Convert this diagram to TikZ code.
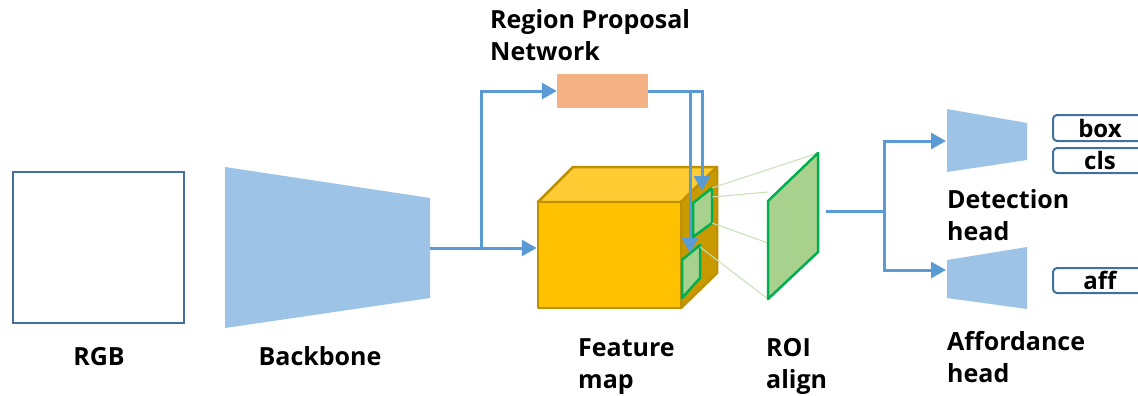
\documentclass[tikz,border=0pt]{standalone}
\usepackage{fontspec}
\setmainfont{Open Sans}
\usetikzlibrary{arrows.meta,calc}

\definecolor{arrowblue}{HTML}{5B9BD5}
\definecolor{netblue}{HTML}{9DC3E6}
\definecolor{frameblue}{HTML}{41719C}
\definecolor{rpnorange}{HTML}{F4B183}
\definecolor{cubefront}{HTML}{FFC000}
\definecolor{cubetop}{HTML}{FFCD33}
\definecolor{cubeside}{HTML}{C99A00}
\definecolor{cubeedge}{HTML}{BF9000}
\definecolor{roifill}{HTML}{A9D18E}
\definecolor{roiedge}{HTML}{00B050}
\definecolor{guide}{HTML}{C5E0B4}

\begin{document}
\begin{tikzpicture}[x=1pt, y=-1pt,
    >={Triangle[length=15pt, width=16pt]},
    arr/.style={->, draw=arrowblue, line width=3pt},
    wire/.style={draw=arrowblue, line width=3pt},
    lbl/.style={font=\fontsize{25}{32}\selectfont\bfseries, align=left, inner sep=0pt, anchor=base west},
    outbox/.style={draw=frameblue, line width=2pt, rounded corners=4pt, inner sep=0pt,
        minimum width=94pt, font=\fontsize{24}{26}\selectfont\bfseries},
    cube/.style={draw=cubeedge, line width=2.5pt, line join=round},
    patch/.style={fill=roifill, draw=roiedge, line width=2.5pt, line join=round},
    guideline/.style={draw=guide, line width=1pt},
]
\useasboundingbox (0,0) rectangle (1138,396);
\clip (0,0) rectangle (1138,396);

% --- Input image ---
\node[draw=frameblue, line width=2.2pt, fill=white, inner sep=0pt,
      minimum width=171pt, minimum height=151pt] (rgb) at (98.5,247.5) {};
\node[lbl, anchor=base] (rgb_lbl) at (99,365) {RGB};

% --- Backbone ---
\fill[netblue] (225,167) -- (430,198) -- (430,298) -- (225,328) -- cycle;
\coordinate (bb_out) at (430,248);
\coordinate (split) at (481,248);
\node[lbl, anchor=base] (bb_lbl) at (320,365) {Backbone};

% --- Region proposal network ---
\node[fill=rpnorange, inner sep=0pt, minimum width=91pt, minimum height=34pt] (rpn) at (602.5,91) {};
\node[lbl] (rpn_lbl) at (490,60) {Region Proposal\\Network};

% --- Feature map cube ---
\fill[cubetop]  (538,202) -- (573,167) -- (717,167) -- (681,202) -- cycle;
\draw[cube]     (538,202) -- (573,167) -- (717,167) -- (681,202) -- cycle;
\fill[cubeside] (681,202) -- (717,167) -- (717,273) -- (681,308) -- cycle;
\draw[cube]     (681,202) -- (717,167) -- (717,273) -- (681,308) -- cycle;
\node[cube, fill=cubefront, inner sep=0pt, minimum width=143pt, minimum height=106pt] (fm) at (609.5,255) {};
\node[lbl] (fm_lbl) at (578,388) {Feature\\map};

% proposals on the feature map
\draw[patch] (693,203) -- (712,188) -- (712,223) -- (693,237) -- cycle;
\draw[patch] (682,260) -- (700,245) -- (700,278) -- (682,298) -- cycle;
\coordinate (prop_a) at (702,191);
\coordinate (prop_b) at (690,253);

% --- ROI align ---
\draw[guideline] (712,188) -- (818,153);
\draw[guideline] (712,197) -- (768,192);
\draw[guideline] (712,223) -- (768,243);
\draw[guideline] (700,247) -- (768,299);
\draw[patch] (768,201) -- (818,153) -- (818,252) -- (768,299) -- cycle;
\coordinate (roi_out) at (826,211);
\coordinate (hsplit) at (884,211);
\node[lbl] (roi_lbl) at (766,388) {ROI\\align};

% --- Heads ---
\fill[netblue] (947,109) -- (1027,123) -- (1027,160) -- (947,172) -- cycle;
\fill[netblue] (947,260) -- (1027,247) -- (1027,309) -- (947,298) -- cycle;
\coordinate (det_in) at (946,141);
\coordinate (aff_in) at (946,270);
\node[lbl] (det_lbl) at (947,240) {Detection\\head};
\node[lbl] (aff_lbl) at (947,382) {Affordance\\head};

\node[outbox, minimum height=26pt] (box) at (1100,128) {box};
\node[outbox, minimum height=25pt] (cls) at (1100,160.5) {cls};
\node[outbox, minimum height=25pt] (aff) at (1100,280.5) {aff};

% --- Arrows ---
\draw[arr] (bb_out) -- (bb_out -| fm.west);
\draw[arr] (split) |- (rpn.west);
\draw[arr] (rpn.east) -| (prop_a);
\draw[arr] (rpn.east) -| (prop_b);
\draw[wire] (roi_out) -- (hsplit);
\draw[arr] (hsplit) |- (det_in);
\draw[arr] (hsplit) |- (aff_in);

\end{tikzpicture}
\end{document}
